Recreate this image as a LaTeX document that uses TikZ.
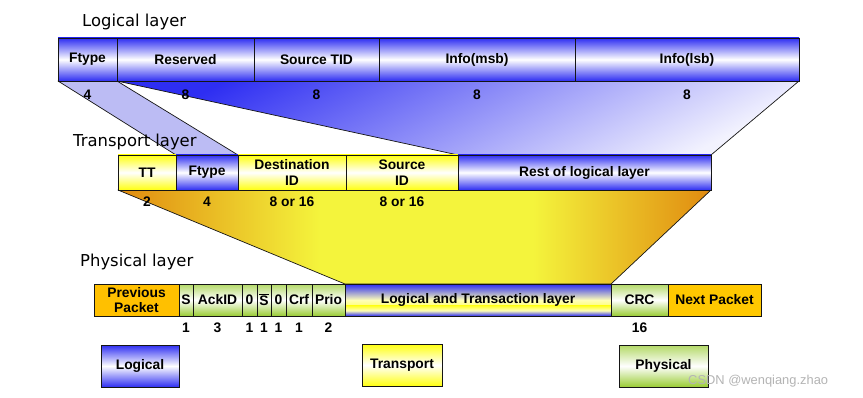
\documentclass[tikz,border=0pt]{standalone}
\usepackage{fontspec}
\setmainfont{Liberation Sans}
\newfontfamily\titlefont{DejaVu Sans}
\usetikzlibrary{positioning, backgrounds}
\definecolor{ink}{HTML}{151515}
\definecolor{fblue}{HTML}{2E2EF2}
\definecolor{fpale}{HTML}{BCBCF4}
\definecolor{fyellow}{HTML}{FFFF10}
\definecolor{fgreen}{HTML}{99CC33}
\definecolor{forange}{HTML}{FFC000}
\definecolor{fnext}{HTML}{FFC800}
\definecolor{fdark}{HTML}{E08A10}
\definecolor{fmid}{HTML}{F4F43C}
\definecolor{wmark}{HTML}{B4B4B4}
\colorlet{fhaze}{fyellow!30!white}

\pgfdeclarehorizontalshading{sunband}{100bp}{color(0bp)=(fdark); color(25bp)=(fdark);
  color(42bp)=(fmid); color(60bp)=(fmid); color(75bp)=(fdark); color(100bp)=(fdark)}

\def\px{0.03cm}

\begin{document}
\begin{tikzpicture}[
    x=0.03cm, y=-0.03cm,
    font=\bfseries\fontsize{11.8}{13.5}\selectfont,
    cell/.style={
      draw=ink,
      line width=0.8pt,
      inner sep=0pt,
      outer sep=0pt,
      align=center,
      minimum width=#1*\px,
    },
    lrow/.style={minimum height=43*\px},
    trow/.style={minimum height=35*\px},
    prow/.style={minimum height=32*\px},
    keyrow/.style={minimum height=42*\px},
    bluecell/.style={top color=fblue, bottom color=fblue, middle color=white},
    yellowcell/.style={top color=fyellow, bottom color=fyellow, middle color=white},
    greencell/.style={top color=fgreen!75, bottom color=fgreen, middle color=white},
    mixcell/.style={
      fill=fyellow,
      path picture={
        \shade[top color=fblue, bottom color=fyellow, middle color=fhaze]
          (path picture bounding box.north west)
          rectangle ([yshift=-11*\px]path picture bounding box.east);
        \shade[top color=fyellow, bottom color=fblue, middle color=fhaze]
          ([yshift=-5*\px]path picture bounding box.west)
          rectangle (path picture bounding box.south east);
      },
    },
    num/.style={inner sep=0pt},
    title/.style={font=\titlefont\fontsize{14}{16}\selectfont, inner sep=0pt, anchor=west},
    funnel/.style={draw=ink, line width=0.6pt, line join=round},
  ]

  \useasboundingbox (0,0) rectangle (863,398);

  % Logical layer
  \node[title] (tlog) at (82,22) {Logical layer};
  \node[cell=59, bluecell, lrow, anchor=north west] (lftype) at (58,38) {Ftype};
  \node[cell=137, bluecell, lrow, right=0pt of lftype] (lres) {Reserved};
  \node[cell=125, bluecell, lrow, right=0pt of lres] (lsrc) {Source TID};
  \node[cell=196, bluecell, lrow, right=0pt of lsrc] (lmsb) {Info(msb)};
  \node[cell=224, bluecell, lrow, right=0pt of lmsb] (llsb) {Info(lsb)};

  % Transport layer
  \node[title] (ttr) at (73,142) {Transport layer};
  \node[cell=58, yellowcell, trow, anchor=north west] (ttt) at (118,155) {TT};
  \node[cell=62, bluecell, trow, right=0pt of ttt] (tftype) {Ftype};
  \node[cell=108, yellowcell, trow, right=0pt of tftype] (tdst) {Destination\\ID};
  \node[cell=112, yellowcell, trow, right=0pt of tdst] (tsrc) {Source\\ID};
  \node[cell=253, bluecell, trow, right=0pt of tsrc] (trest) {Rest of logical layer};

  % Physical layer
  \node[title] (tphy) at (80,262) {Physical layer};
  \node[cell=85, fill=forange, prow, anchor=north west] (pprev) at (94,284) {Previous\\Packet};
  \node[cell=14, greencell, prow, right=0pt of pprev] (ps) {S};
  \node[cell=49, greencell, prow, right=0pt of ps] (pack) {AckID};
  \node[cell=15, greencell, prow, right=0pt of pack] (pzero) {0};
  \node[cell=14, greencell, prow, right=0pt of pzero] (psbar) {$\overline{\hbox{S}}$};
  \node[cell=15, greencell, prow, right=0pt of psbar] (pzerob) {0};
  \node[cell=26, greencell, prow, right=0pt of pzerob] (pcrf) {Crf};
  \node[cell=33, greencell, prow, right=0pt of pcrf] (pprio) {Prio};
  \node[cell=266, mixcell, prow, right=0pt of pprio] (plt) {Logical and Transaction layer};
  \node[cell=57, greencell, prow, right=0pt of plt] (pcrc) {CRC};
  \node[cell=93, fill=fnext, prow, right=0pt of pcrc] (pnext) {Next Packet};

  % Field sizes
  \foreach \c/\t in {lftype/4, lres/8, lsrc/8, lmsb/8, llsb/8}
    \node[num, below=7.2pt of \c] (n\c) {\t};
  \foreach \c/\t in {ttt/2, tftype/4, tdst/8 or 16, tsrc/8 or 16}
    \node[num, below=5.5pt of \c] (n\c) {\t};
  \foreach \c/\t in {ps/1, pack/3, pzero/1, psbar/1, pzerob/1, pcrf/1, pprio/2, pcrc/16}
    \node[num, below=6pt of \c] (n\c) {\t};

  % Key
  \node[cell=78, bluecell, keyrow, anchor=north west] (keylog) at (101,345) {Logical};
  \node[cell=80, yellowcell, keyrow, anchor=north west] (keytr) at (362,344) {Transport};
  \node[cell=89, greencell, keyrow, anchor=north west] (keyph) at (619,345) {Physical};

  \node[font=\mdseries\fontsize{11}{12}\selectfont, text=wmark, inner sep=0pt, anchor=west] (wm) at (688,381) {CSDN @wenqiang.zhao};

  % Funnels between the layers
  \begin{scope}[on background layer]
    \fill[white] (0,0) rectangle (863,398);
    \draw[funnel, fill=fpale] (lftype.south west) -- (tftype.north west)
      -- (tftype.north east) -- (lftype.south east) -- cycle;
    \draw[funnel, top color=fblue, bottom color=fblue!6, shading angle=28]
      (lres.south west) -- (trest.north west) -- (trest.north east)
      -- (llsb.south east) -- cycle;
    \draw[funnel, shading=sunband]
      (ttt.south west) -- (plt.north west) -- (plt.north east)
      -- (trest.south east) -- cycle;
  \end{scope}

\end{tikzpicture}
\end{document}
